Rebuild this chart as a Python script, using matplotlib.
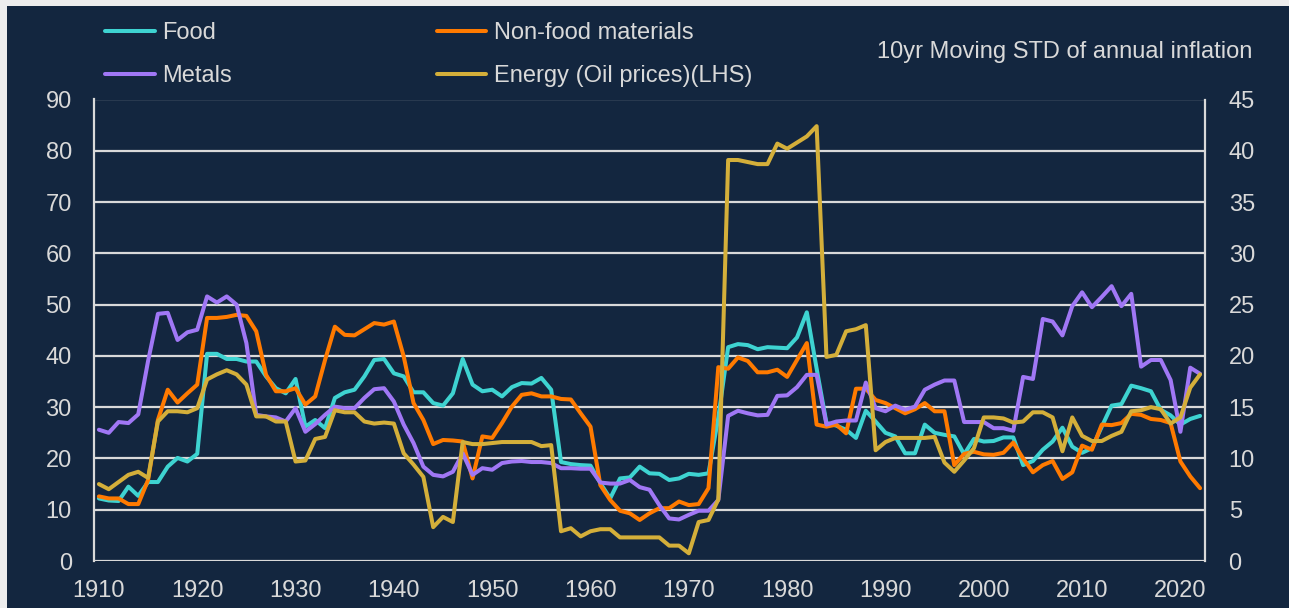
import numpy as np
import matplotlib
matplotlib.use('Agg')
import matplotlib.pyplot as plt
from matplotlib.patches import Rectangle

plt.rcParams['font.family'] = ['Liberation Sans', 'DejaVu Sans']

# 10yr moving STD of annual inflation, 1910-2022
food = [12.2, 11.8, 11.7, 14.5, 12.7, 15.4, 15.4, 18.4, 20.1, 19.4,
        20.9, 40.4, 40.4, 39.4, 39.4, 38.9, 38.9, 36.0, 33.7, 32.7,
        35.5, 26.2, 27.5, 25.9, 31.8, 32.9, 33.4, 36.0, 39.2, 39.4,
        36.6, 36.0, 32.9, 32.9, 30.8, 30.3, 32.7, 39.4, 34.4, 33.1,
        33.4, 32.1, 33.9, 34.7, 34.6, 35.7, 33.4, 19.3, 18.9, 18.7,
        18.6, 15.2, 12.2, 16.1, 16.3, 18.4, 17.1, 17.0, 15.8, 16.1,
        17.0, 16.8, 17.1, 28.0, 41.7, 42.3, 42.1, 41.3, 41.7, 41.6,
        41.5, 43.6, 48.5, 37.5, 26.9, 26.4, 25.6, 24.0, 29.3, 27.2,
        25.0, 24.3, 21.0, 21.0, 26.6, 25.0, 24.6, 24.3, 20.8, 23.8,
        23.3, 23.4, 24.1, 24.1, 18.7, 19.5, 21.7, 23.3, 26.0, 22.3,
        21.1, 22.0, 26.2, 30.3, 30.6, 34.2, 33.7, 33.1, 29.5, 28.4,
        26.6, 27.7, 28.3]
nonfood = [12.6, 12.2, 12.2, 11.1, 11.1, 15.8, 27.5, 33.4, 30.9, 32.7,
           34.4, 47.4, 47.4, 47.6, 48.0, 47.8, 44.8, 36.3, 33.1, 33.1,
           33.7, 30.5, 32.1, 39.2, 45.7, 44.1, 44.0, 45.2, 46.4, 46.1,
           46.7, 39.9, 30.8, 27.5, 22.8, 23.6, 23.5, 23.3, 16.1, 24.3,
           24.0, 26.9, 30.1, 32.4, 32.7, 32.1, 32.1, 31.6, 31.5, 28.8,
           26.2, 14.8, 11.9, 9.8, 9.3, 8.0, 9.3, 10.3, 10.3, 11.6,
           10.9, 11.1, 14.2, 37.8, 37.5, 39.7, 39.0, 36.8, 36.8, 37.3,
           35.9, 39.2, 42.5, 26.6, 26.2, 26.6, 24.9, 33.6, 33.6, 31.4,
           30.8, 29.8, 28.8, 29.6, 30.8, 29.2, 29.2, 18.7, 20.9, 21.3,
           20.8, 20.7, 21.1, 23.1, 20.0, 17.3, 18.7, 19.5, 16.0, 17.3,
           22.5, 21.7, 26.6, 26.5, 26.9, 28.7, 28.5, 27.7, 27.5, 26.9,
           19.4, 16.5, 14.2]
metals = [25.6, 25.0, 27.1, 26.9, 28.6, 39.0, 48.2, 48.4, 43.1, 44.6,
          45.1, 51.6, 50.4, 51.6, 50.0, 42.5, 28.5, 28.2, 28.0, 27.2,
          29.8, 25.2, 26.7, 28.5, 30.1, 29.8, 29.8, 31.8, 33.5, 33.7,
          31.1, 26.6, 23.0, 18.4, 16.8, 16.5, 17.4, 21.0, 16.8, 18.1,
          17.8, 19.1, 19.4, 19.5, 19.3, 19.3, 19.1, 18.1, 18.1, 18.0,
          18.0, 15.3, 15.1, 15.1, 15.8, 14.4, 13.9, 10.9, 8.3, 8.1,
          9.0, 9.8, 9.8, 11.9, 28.3, 29.3, 28.8, 28.4, 28.5, 32.2,
          32.3, 33.9, 36.3, 36.3, 26.6, 27.2, 27.4, 27.4, 34.8, 29.8,
          29.2, 30.3, 29.5, 30.1, 33.4, 34.4, 35.2, 35.2, 27.1, 27.1,
          27.1, 25.9, 25.9, 25.4, 35.9, 35.5, 47.2, 46.7, 44.0, 49.7,
          52.4, 49.5, 51.5, 53.6, 49.7, 52.1, 37.9, 39.2, 39.2, 35.3,
          25.2, 37.7, 36.5]
energy = [7.5, 7.0, 7.7, 8.4, 8.7, 8.1, 13.6, 14.6, 14.6, 14.5,
          14.9, 17.7, 18.2, 18.6, 18.2, 17.2, 14.1, 14.1, 13.6, 13.6,
          9.7, 9.8, 11.9, 12.1, 14.7, 14.5, 14.5, 13.6, 13.4, 13.5,
          13.4, 10.5, 9.4, 8.2, 3.3, 4.3, 3.8, 11.6, 11.4, 11.4,
          11.5, 11.6, 11.6, 11.6, 11.6, 11.2, 11.3, 2.9, 3.2, 2.4,
          2.9, 3.1, 3.1, 2.3, 2.3, 2.3, 2.3, 2.3, 1.5, 1.5,
          0.75, 3.8, 4.0, 6.0, 39.1, 39.1, 38.9, 38.7, 38.7, 40.7,
          40.2, 40.8, 41.4, 42.4, 19.9, 20.1, 22.4, 22.6, 23.0, 10.8,
          11.6, 12.0, 12.0, 12.0, 12.0, 12.1, 9.6, 8.7, 9.8, 11.0,
          14.0, 14.0, 13.9, 13.5, 13.6, 14.5, 14.5, 14.0, 10.7, 14.0,
          12.2, 11.7, 11.7, 12.2, 12.6, 14.6, 14.7, 15.0, 14.8, 13.4,
          14.0, 16.9, 18.2]
years = np.arange(1910, 1910 + len(food))

bg = '#13263F'
txt = '#D9D9D9'
W, H = 1289, 608

fig = plt.figure(figsize=(W / 100, H / 100), dpi=100, facecolor='#EDEDED')
fig.patches.append(Rectangle((7 / W, 0), 1, 1 - 6 / H, transform=fig.transFigure,
                             facecolor=bg, edgecolor='none', zorder=-5))

ax = fig.add_axes([94 / W, (H - 561) / H, (1205 - 94) / W, (561 - 99.5) / H])
ax.set_facecolor('none')
ax2 = ax.twinx()

kw = dict(lw=2.9, solid_joinstyle='round', solid_capstyle='round')
l1, = ax.plot(years, food, color='#3ED3D1', **kw)
l2, = ax.plot(years, nonfood, color='#FF7A00', **kw)
l3, = ax.plot(years, metals, color='#A077F5', **kw)
l4, = ax2.plot(years, energy, color='#D4AF3A', **kw)

ax.set_xlim(1909.5, 2022.5)
ax.set_ylim(0, 90)
ax2.set_ylim(0, 45)
ax.set_yticks(np.arange(0, 91, 10))
ax2.set_yticks(np.arange(0, 46, 5))
ax.set_xticks(np.arange(1910, 2021, 10))

ax.yaxis.grid(True, color=txt, lw=1.6)
ax.set_axisbelow(True)
for a in (ax, ax2):
    for s in a.spines.values():
        s.set_visible(False)
    a.tick_params(length=0, colors=txt, labelsize=17)
ax.spines['left'].set_visible(True)
ax.spines['left'].set_color(txt)
ax.spines['left'].set_linewidth(1.6)
ax2.spines['right'].set_visible(True)
ax2.spines['right'].set_color(txt)
ax2.spines['right'].set_linewidth(1.6)
ax.tick_params(axis='y', pad=16)
ax2.tick_params(axis='y', pad=17)
ax.tick_params(axis='x', pad=14)

fig.legend([l1, l3, l2, l4], ['Food', 'Metals', 'Non-food materials', 'Energy (Oil prices)(LHS)'],
           loc='upper left', bbox_to_anchor=(105 / W, 1 - 22 / H), ncol=2,
           frameon=False, fontsize=17, labelcolor=txt, handlelength=2.1,
           handletextpad=0.3, columnspacing=8.7, labelspacing=0.9,
           borderpad=0, borderaxespad=0)
fig.text(1252 / W, 1 - 52 / H, '10yr Moving STD of annual inflation',
         ha='right', va='center', color=txt, fontsize=17)

fig.savefig('out.png', dpi=100, facecolor=fig.get_facecolor())
